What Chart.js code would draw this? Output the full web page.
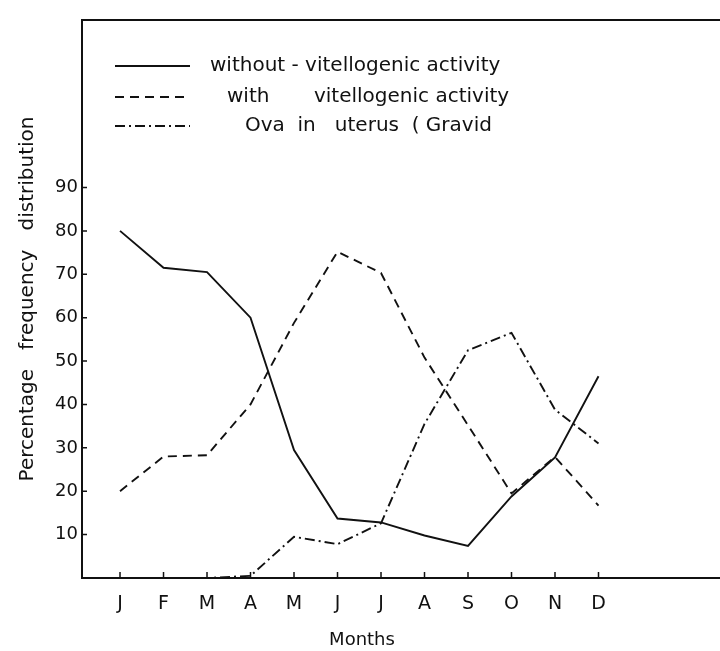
<!DOCTYPE html>
<html>
<head>
<meta charset="utf-8">
<script src="https://cdn.jsdelivr.net/npm/chart.js@4"></script>
<style>
    body { margin: 0; background: #fff; }
    #wrap { width: 720px; height: 651px; position: relative; }
</style>
</head>
<body>
<div id="wrap"><canvas id="vitellogenic-chart"></canvas></div>
<script>
let months = ['J', 'F', 'M', 'A', 'M', 'J', 'J', 'A', 'S', 'O', 'N', 'D'];
let yTicks = [10, 20, 30, 40, 50, 60, 70, 80, 90];

let withoutVitellogenic = [80, 71.5, 70.5, 60, 29.5, 13.7, 12.8, 9.8, 7.4, 18.8, 27.8, 46.5];
let withVitellogenic = [20, 28, 28.3, 40, 58.8, 75.2, 70.3, 50.8, 35.2, 19.5, 27.9, 16.7];
let ovaInUterus = [0, 0, 0, 0.5, 9.5, 7.8, 12.6, 35.5, 52.5, 56.5, 38.8, 31];

let ink = '#111';
Chart.defaults.font.family = "'DejaVu Sans', sans-serif";
Chart.defaults.color = ink;

// top frame, x axis run-on, inward tick marks and the hand-set legend
const frameAndLegend = {
    id: 'frameAndLegend',
    afterDraw(chart) {
        const ctx = chart.ctx;
        const area = chart.chartArea;
        const xs = chart.scales.x;
        const ys = chart.scales.y;
        ctx.save();
        ctx.strokeStyle = ink;
        ctx.lineWidth = 2;
        ctx.beginPath();
        ctx.moveTo(area.left, area.top);
        ctx.lineTo(chart.width, area.top);
        ctx.moveTo(area.right, area.bottom);
        ctx.lineTo(chart.width, area.bottom);
        ctx.stroke();

        ctx.lineWidth = 1.5;
        ctx.beginPath();
        yTicks.forEach(v => {
            let py = ys.getPixelForValue(v);
            ctx.moveTo(area.left, py);
            ctx.lineTo(area.left + 5, py);
        });
        months.forEach((m, i) => {
            let px = xs.getPixelForValue(i);
            ctx.moveTo(px, area.bottom);
            ctx.lineTo(px, area.bottom - 6);
        });
        ctx.stroke();

        let rowY = [66, 97, 126];
        let textX = [210, 227, 245];
        ctx.font = "20px 'DejaVu Sans'";
        ctx.fillStyle = ink;
        ctx.textBaseline = 'middle';
        chart.data.datasets.forEach((ds, i) => {
            ctx.lineWidth = ds.borderWidth;
            ctx.setLineDash(ds.borderDash);
            ctx.beginPath();
            ctx.moveTo(115, rowY[i]);
            ctx.lineTo(190, rowY[i]);
            ctx.stroke();
            ctx.setLineDash([]);
            ctx.fillText(ds.label, textX[i], rowY[i]);
        });
        ctx.restore();
    }
};

var ctx = document.getElementById('vitellogenic-chart');
var data = {
    datasets: [{
        label: 'without - vitellogenic activity',
        data: withoutVitellogenic.map((v, i) => ({ x: i, y: v })),
        borderColor: ink,
        borderWidth: 1.9,
        borderDash: []
    }, {
        label: 'with       vitellogenic activity',
        data: withVitellogenic.map((v, i) => ({ x: i, y: v })),
        borderColor: ink,
        borderWidth: 1.9,
        borderDash: [9, 6]
    }, {
        label: 'Ova  in   uterus  ( Gravid',
        data: ovaInUterus.map((v, i) => ({ x: i, y: v })),
        borderColor: ink,
        borderWidth: 1.9,
        borderDash: [10, 4, 2, 4]
    }]
};

var options = {
    responsive: true,
    maintainAspectRatio: false,
    animation: false,
    layout: { padding: { top: 20, right: 78, left: 0, bottom: 0 } },
    elements: { point: { radius: 0 }, line: { tension: 0, fill: false } },
    plugins: { legend: { display: false }, tooltip: { enabled: false } },
    scales: {
        x: {
            type: 'linear',
            min: -0.874,
            max: 12.0,
            afterBuildTicks: axis => { axis.ticks = months.map((m, i) => ({ value: i })); },
            afterFit: axis => { axis.height = 73; },
            grid: { display: false, drawTicks: false },
            border: { display: true, color: ink, width: 2 },
            ticks: {
                padding: 15,
                maxRotation: 0,
                autoSkip: false,
                font: { size: 19 },
                callback: v => months[v]
            },
            title: {
                display: true,
                text: 'Months',
                font: { size: 18 },
                padding: { top: 0, bottom: 0 }
            }
        },
        y: {
            min: 0,
            max: 128.6,
            afterBuildTicks: axis => { axis.ticks = yTicks.map(v => ({ value: v })); },
            afterFit: axis => { axis.width = 82; },
            grid: { display: false, drawTicks: false },
            border: { display: true, color: ink, width: 2 },
            ticks: {
                padding: 4,
                font: { size: 18 },
                callback: v => v
            },
            title: {
                display: true,
                text: 'Percentage   frequency   distribution',
                font: { size: 20 },
                padding: { top: 16, bottom: 0 }
            }
        }
    }
};

var vitellogenicChart = new Chart(ctx, {
    type: 'line',
    data: data,
    options: options,
    plugins: [frameAndLegend]
});
</script>
</body>
</html>
